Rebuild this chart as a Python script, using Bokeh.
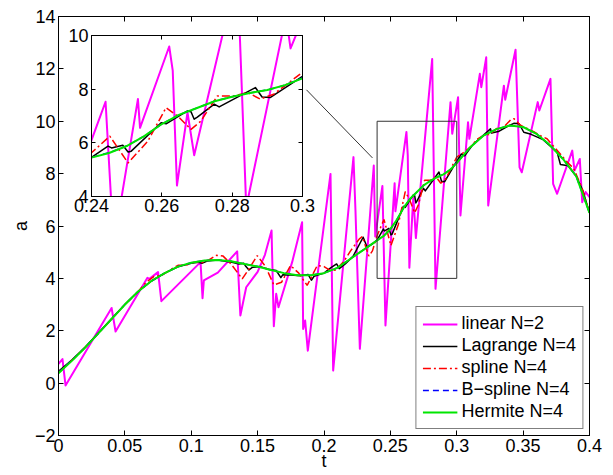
from bokeh.plotting import figure
from bokeh.models import Range1d, LinearAxis, FixedTicker
from bokeh.layouts import column
from bokeh.embed import file_html
from bokeh.resources import INLINE

# ---------------- data ----------------
# linear N=2 (magenta)
t_linear = [0.0, 0.003, 0.0053, 0.040, 0.043, 0.067, 0.0685, 0.075, 0.0775, 0.107,
            0.1085, 0.1095, 0.120, 0.1346, 0.137, 0.1414, 0.150, 0.1555, 0.1605, 0.1622,
            0.1640, 0.1657, 0.176, 0.1835, 0.1843, 0.1858, 0.1878, 0.2049, 0.2069, 0.2222,
            0.2237, 0.2270, 0.2375, 0.2386, 0.2440, 0.2463, 0.2532, 0.2538, 0.2621, 0.2631,
            0.2643, 0.2673, 0.2692, 0.2815, 0.2840, 0.2953, 0.2966, 0.3010, 0.3028, 0.3085,
            0.3095, 0.3174, 0.3185, 0.3222, 0.3237, 0.3355, 0.3365, 0.3443, 0.3473, 0.3490,
            0.3610, 0.3622, 0.3706, 0.3726, 0.3756, 0.3870, 0.3887, 0.3927, 0.3945, 0.3970,
            0.4000]
a_linear = [0.74, 0.92, -0.09, 2.87, 1.97, 4.02, 3.98, 4.24, 3.13, 4.62,
            3.24, 3.92, 4.22, 5.03, 2.58, 3.66, 4.25, 4.9, 5.83, 2.17,
            3.41, 2.9, 4.62, 6.14, 2.07, 2.39, 1.24, 7.99, 0.48, 8.63,
            6.6, 1.31, 8.31, 5.6, 7.53, 2.2, 7.63, 6.56, 9.59, 8.69,
            4.41, 7.13, 5.54, 12.38, 3.6, 10.73, 9.52, 10.92, 6.4, 9.96,
            9.33, 11.81, 11.3, 12.44, 6.78, 11.36, 10.82, 12.73, 8.24, 8.05,
            10.73, 10.41, 11.62, 7.61, 7.23, 8.88, 8.12, 8.56, 6.91, 7.3,
            7.1]

# Lagrange N=4 (black)
t_lagrange = [0.000, 0.010, 0.020, 0.030, 0.040, 0.050, 0.060, 0.070, 0.080, 0.090,
              0.100, 0.105, 0.108, 0.112, 0.120, 0.130, 0.136, 0.1395, 0.1412, 0.1435,
              0.146, 0.152, 0.158, 0.164, 0.1675, 0.169, 0.175, 0.182, 0.188, 0.1905,
              0.1925, 0.200, 0.205, 0.2095, 0.2115, 0.216, 0.222, 0.2295, 0.2325, 0.236,
              0.240, 0.2447, 0.2457, 0.2489, 0.2504, 0.2513, 0.2598, 0.2612, 0.2673, 0.2683,
              0.2692, 0.2701, 0.2749, 0.2763, 0.2866, 0.2885, 0.2909, 0.300, 0.3035, 0.3060,
              0.312, 0.3175, 0.3254, 0.3262, 0.332, 0.338, 0.343, 0.347, 0.3505, 0.356,
              0.365, 0.3756, 0.3781, 0.384, 0.390, 0.395, 0.400]
a_lagrange = [0.45, 0.88, 1.37, 1.91, 2.46, 3.0, 3.5, 3.9, 4.2, 4.44,
              4.58, 4.62, 4.58, 4.66, 4.7, 4.62, 4.55, 4.58, 4.45, 4.32,
              4.42, 4.45, 4.35, 4.3, 4.03, 4.14, 4.13, 4.1, 4.15, 3.93,
              4.08, 4.2, 4.4, 4.55, 4.37, 4.55, 4.85, 5.57, 5.19, 5.3,
              5.46, 5.88, 5.81, 5.91, 5.66, 5.69, 6.75, 6.71, 7.19, 7.16,
              6.88, 6.96, 7.44, 7.34, 8.06, 7.71, 7.69, 8.48, 8.75, 8.68,
              9.1, 9.35, 9.71, 9.55, 9.62, 9.8, 9.92, 9.9, 9.58, 9.5,
              9.3, 8.82, 8.35, 8.3, 7.9, 7.35, 6.5]

# spline N=4 (red, dash-dot)
t_spline = [0.000, 0.010, 0.020, 0.030, 0.040, 0.050, 0.060, 0.066, 0.072, 0.078,
            0.084, 0.090, 0.096, 0.102, 0.108, 0.113, 0.119, 0.124, 0.130, 0.1384,
            0.144, 0.1497, 0.156, 0.1622, 0.168, 0.1748, 0.181, 0.1873, 0.1949, 0.200,
            0.2049, 0.2087, 0.215, 0.220, 0.2265, 0.2288, 0.2338, 0.2365, 0.240, 0.2452,
            0.2504, 0.256, 0.2612, 0.2645, 0.2683, 0.2711, 0.2758, 0.2805, 0.2843, 0.288,
            0.2918, 0.300, 0.305, 0.310, 0.315, 0.320, 0.325, 0.330, 0.335, 0.3405,
            0.343, 0.348, 0.352, 0.358, 0.363, 0.368, 0.372, 0.378, 0.383, 0.388,
            0.394, 0.400]
a_spline = [0.40, 0.86, 1.36, 1.9, 2.45, 3.0, 3.5, 3.85, 4.08, 4.12,
            4.32, 4.5, 4.5, 4.62, 4.6, 4.7, 4.88, 4.85, 4.55, 3.98,
            4.4, 4.87, 4.45, 3.75, 3.85, 4.49, 4.2, 3.73, 4.49, 4.45,
            4.3, 4.32, 4.65, 5.05, 5.5, 5.6, 4.85, 5.05, 5.63, 6.25,
            5.25, 6.06, 7.31, 7.0, 6.5, 6.81, 7.75, 7.75, 7.88, 7.63,
            7.81, 8.63, 8.8, 9.0, 9.3, 9.45, 9.5, 9.72, 9.75, 10.05,
            10.1, 9.85, 9.75, 9.6, 9.45, 9.33, 9.1, 8.75, 8.45, 8.2,
            7.5, 6.5]

# B-spline N=4 (blue, dashed) and Hermite N=4 (green)
t_smooth = [0.00, 0.01, 0.02, 0.03, 0.04, 0.05, 0.06, 0.07, 0.08, 0.09,
            0.10, 0.11, 0.12, 0.13, 0.14, 0.15, 0.16, 0.17, 0.18, 0.19,
            0.20, 0.21, 0.22, 0.23, 0.24, 0.245, 0.25, 0.255, 0.26, 0.265,
            0.27, 0.275, 0.28, 0.285, 0.29, 0.295, 0.30, 0.31, 0.32, 0.33,
            0.34, 0.35, 0.36, 0.37, 0.38, 0.39, 0.40]
a_bspline = [0.40, 0.86, 1.36, 1.9, 2.45, 3.0, 3.5, 3.9, 4.2, 4.45,
             4.6, 4.68, 4.7, 4.65, 4.55, 4.45, 4.32, 4.2, 4.12, 4.12,
             4.2, 4.4, 4.75, 5.1, 5.46, 5.63, 5.88, 6.25, 6.7, 7.05,
             7.3, 7.55, 7.72, 7.86, 7.97, 8.15, 8.42, 9.0, 9.45, 9.7,
             9.84, 9.78, 9.52, 9.1, 8.56, 7.9, 6.5]
a_hermite = [0.38, 0.85, 1.35, 1.9, 2.45, 3.0, 3.5, 3.9, 4.2, 4.45,
             4.6, 4.68, 4.7, 4.65, 4.55, 4.45, 4.32, 4.2, 4.12, 4.12,
             4.2, 4.4, 4.75, 5.1, 5.45, 5.62, 5.88, 6.25, 6.7, 7.05,
             7.3, 7.55, 7.72, 7.86, 7.97, 8.15, 8.4, 9.0, 9.45, 9.7,
             9.84, 9.78, 9.52, 9.1, 8.56, 7.9, 6.5]

series_labels = ["linear N=2", "Lagrange N=4", "spline N=4", "B\u2212spline N=4", "Hermite N=4"]

# axes ticks
x_ticks = [0, 0.05, 0.1, 0.15, 0.2, 0.25, 0.3, 0.35, 0.4]
x_tick_labels = ["0", "0.05", "0.1", "0.15", "0.2", "0.25", "0.3", "0.35", "0.4"]
y_ticks = [-2, 0, 2, 4, 6, 8, 10, 12, 14]
y_tick_labels = ["\u22122", "0", "2", "4", "6", "8", "10", "12", "14"]
inset_x_ticks = [0.24, 0.26, 0.28, 0.3]
inset_x_tick_labels = ["0.24", "0.26", "0.28", "0.3"]
inset_y_ticks = [4, 6, 8, 10]
inset_y_tick_labels = ["4", "6", "8", "10"]

# zoom window (inset range) and the annotation line
inset_t_range = [0.24, 0.30]
inset_a_range = [4, 10]
connector_t = [0.1868, 0.2365]
connector_a = [11.2, 8.6]

FONT = "Liberation Sans"
FS = "18px"

# layout (pixels)
W, H = 613, 475
BL, BR, BT, BB = 58, 24, 16, 40          # main frame borders
INSET_X, INSET_Y = 33, 25                # inset figure top-left on the page
INSET_BT, INSET_BB = 10, 30
INSET_FW, INSET_FH = 211, 161


def style_axis(ax, ticks, labels, show_labels=True, tick_len=5):
    ax.ticker = FixedTicker(ticks=ticks)
    ax.major_tick_in = tick_len
    ax.major_tick_out = 0
    ax.minor_tick_in = 0
    ax.minor_tick_out = 0
    ax.axis_line_color = "black"
    ax.major_tick_line_color = "black"
    ax.major_label_text_font = FONT
    ax.major_label_text_color = "black"
    if show_labels:
        ax.major_label_overrides = {t: l for t, l in zip(ticks, labels)}
        ax.major_label_text_font_size = FS
        ax.major_label_standoff = 3
    else:
        ax.major_label_overrides = {t: "" for t in ticks}
        ax.major_label_text_font_size = "1px"
        ax.major_label_standoff = 0


def draw_series(fig, with_legend):
    kw = lambda i: {"legend_label": series_labels[i]} if with_legend else {}
    fig.line(t_linear, a_linear, line_color="#FF00FF", line_width=2, line_join="round", **kw(0))
    fig.line(t_lagrange, a_lagrange, line_color="black", line_width=1.5, line_join="round", **kw(1))
    fig.line(t_spline, a_spline, line_color="#FF0000", line_width=1.5, line_dash="8 3 2 3", **kw(2))
    fig.line(t_smooth, a_bspline, line_color="#0000FF", line_width=1.5, line_dash="6 4", **kw(3))
    fig.line(t_smooth, a_hermite, line_color="#00E600", line_width=2, line_join="round", **kw(4))


# ---------------- main figure ----------------
p = figure(width=W, height=H, x_range=Range1d(0, 0.4), y_range=Range1d(-2, 14),
           output_backend="svg", toolbar_location=None,
           min_border_left=BL, min_border_right=BR, min_border_top=BT, min_border_bottom=BB)
p.xgrid.visible = False
p.ygrid.visible = False
p.outline_line_color = "black"
p.outline_line_width = 1
p.background_fill_color = "white"
p.border_fill_color = "white"

style_axis(p.xaxis[0], x_ticks, x_tick_labels)
style_axis(p.yaxis[0], y_ticks, y_tick_labels)
p.xaxis.axis_label = "t"
p.yaxis.axis_label = "a"
for ax in (p.xaxis[0], p.yaxis[0]):
    ax.axis_label_text_font = FONT
    ax.axis_label_text_font_size = FS
    ax.axis_label_text_font_style = "normal"
    ax.axis_label_text_color = "black"
p.xaxis.axis_label_standoff = -4
p.yaxis.axis_label_standoff = 1

top_ax = LinearAxis()
style_axis(top_ax, x_ticks, x_tick_labels, show_labels=False)
p.add_layout(top_ax, "above")
right_ax = LinearAxis()
style_axis(right_ax, y_ticks, y_tick_labels, show_labels=False)
p.add_layout(right_ax, "right")

draw_series(p, True)

p.quad(left=[inset_t_range[0]], right=[inset_t_range[1]],
       bottom=[inset_a_range[0]], top=[inset_a_range[1]],
       fill_alpha=0, line_color="#333333", line_width=1)
p.line(connector_t, connector_a, line_color="black", line_width=0.8)

lg = p.legend[0]
lg.location = "bottom_right"
lg.label_text_font = FONT
lg.label_text_font_size = FS
lg.label_text_color = "black"
lg.glyph_width = 35
lg.glyph_height = 20
lg.label_height = 20
lg.label_standoff = 4
lg.spacing = 1
lg.padding = 6
lg.margin = 6
lg.border_line_color = "black"
lg.border_line_width = 1
lg.background_fill_color = "white"
lg.background_fill_alpha = 1

# ---------------- inset figure ----------------
ins = figure(width=BL + INSET_FW + BR, height=INSET_BT + INSET_FH + INSET_BB,
             x_range=Range1d(inset_t_range[0], inset_t_range[1]),
             y_range=Range1d(inset_a_range[0], inset_a_range[1]),
             output_backend="svg", toolbar_location=None,
             min_border_left=BL, min_border_right=BR,
             min_border_top=INSET_BT, min_border_bottom=INSET_BB)
ins.xgrid.visible = False
ins.ygrid.visible = False
ins.outline_line_color = "black"
ins.background_fill_color = "white"
ins.border_fill_color = None
ins.border_fill_alpha = 0
style_axis(ins.xaxis[0], inset_x_ticks, inset_x_tick_labels, tick_len=4)
style_axis(ins.yaxis[0], inset_y_ticks, inset_y_tick_labels, tick_len=4)
ins.xaxis.major_label_standoff = 2
itop = LinearAxis()
style_axis(itop, inset_x_ticks, inset_x_tick_labels, show_labels=False, tick_len=4)
ins.add_layout(itop, "above")
iright = LinearAxis()
style_axis(iright, inset_y_ticks, inset_y_tick_labels, show_labels=False, tick_len=4)
ins.add_layout(iright, "right")
draw_series(ins, False)

# overlay the inset on the main axes
ins.margin = (INSET_Y - H, 0, 0, INSET_X)

layout = column(p, ins, spacing=0)

open("out.html", "w").write(file_html(layout, INLINE))
